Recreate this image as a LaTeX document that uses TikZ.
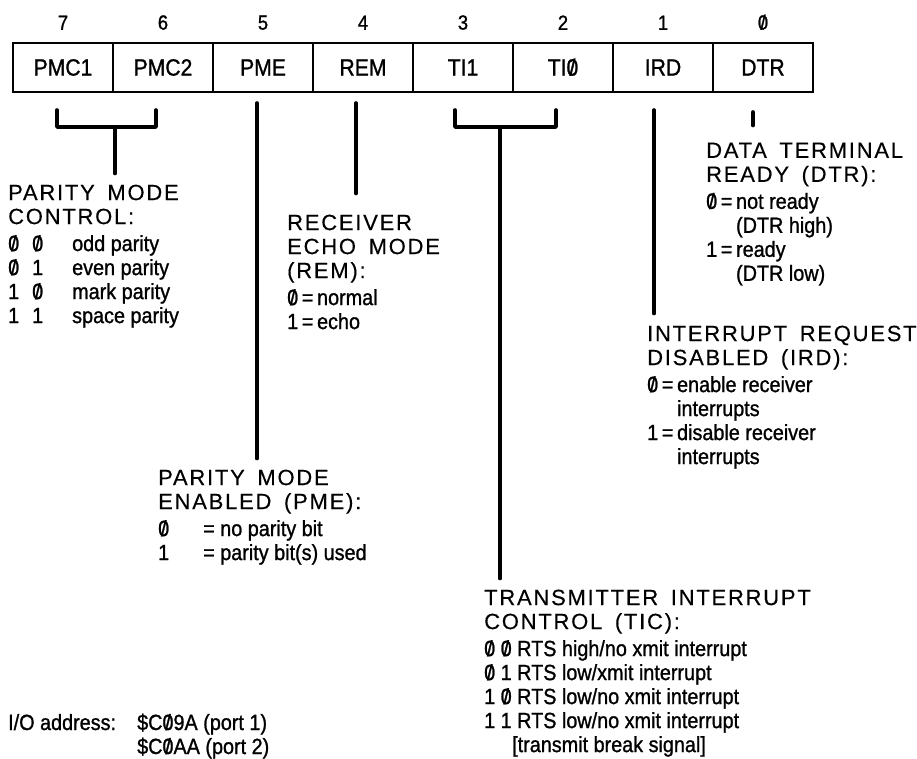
\documentclass[tikz,border=0pt]{standalone}
\usepackage{fontspec}
\setmainfont[FakeStretch=0.9,FakeBold=1.1]{Liberation Sans}
\newfontfamily\hdfont[LetterSpace=8,WordSpace=1.6,FakeBold=0.3]{Liberation Sans}
\usetikzlibrary{positioning,calc}
\newcommand\zr{\ooalign{0\cr\hidewidth/\hidewidth\cr}}
\newcommand\col[2]{\makebox[#1][l]{#2}}
\begin{document}
\begin{tikzpicture}[x=1pt, y=-1pt, line join=round, line cap=round,
    cell/.style={draw, line width=2.6pt, line join=miter, minimum width=100pt, minimum height=49pt, inner sep=0pt, outer sep=0pt, font=\fontsize{23.5}{24}\selectfont},
    bitno/.style={inner sep=0pt, font=\fontsize{20.5}{22}\selectfont},
    desc/.style={anchor=north west, inner sep=0pt, align=left, font=\fontsize{22}{24}\selectfont},
    lead/.style={line width=3.6pt}]
	\useasboundingbox (0,0) rectangle (917,758);
	% register cells
	\node[cell] (b7) at (63,67.5) {PMC1};
	\node[cell, right=0pt of b7] (b6) {PMC2};
	\node[cell, right=0pt of b6] (b5) {PME};
	\node[cell, right=0pt of b5] (b4) {REM};
	\node[cell, right=0pt of b4] (b3) {TI1};
	\node[cell, right=0pt of b3] (b2) {TI\zr};
	\node[cell, right=0pt of b2] (b1) {IRD};
	\node[cell, right=0pt of b1] (b0) {DTR};
	\node[bitno, above=13pt of b7] (n7) {7};
	\node[bitno, above=13pt of b6] (n6) {6};
	\node[bitno, above=13pt of b5] (n5) {5};
	\node[bitno, above=13pt of b4] (n4) {4};
	\node[bitno, above=13pt of b3] (n3) {3};
	\node[bitno, above=13pt of b2] (n2) {2};
	\node[bitno, above=13pt of b1] (n1) {1};
	\node[bitno, above=13pt of b0] (n0) {\zr};
	% descriptions
	\node[desc] (pmc) at (8,184.5) {\hdfont PARITY MODE\\ \hdfont CONTROL:\\[3pt]
		\normalfont\col{24pt}{\zr}\col{40pt}{\zr}odd parity\\
		\col{24pt}{\zr}\col{40pt}{1}even parity\\
		\col{24pt}{1}\col{40pt}{\zr}mark parity\\
		\col{24pt}{1}\col{40pt}{1}space parity};
	\node[desc] (rem) at (287,214.5) {\hdfont RECEIVER\\ \hdfont ECHO MODE\\ \hdfont (REM):\\[3pt]
		\normalfont\zr\,=\,normal\\
		1\,=\,echo};
	\node[desc] (dtr) at (706,142.5) {\hdfont DATA TERMINAL\\ \hdfont READY (DTR):\\[3pt]
		\normalfont\zr\,=\,not ready\\
		\phantom{\zr\,=\,}(DTR high)\\
		1\,=\,ready\\
		\phantom{1\,=\,}(DTR low)};
	\node[desc] (ird) at (647,325.5) {\hdfont INTERRUPT REQUEST\\ \hdfont DISABLED (IRD):\\[3pt]
		\normalfont\zr\,=\,enable receiver\\
		\phantom{\zr\,=\,}interrupts\\
		1\,=\,disable receiver\\
		\phantom{1\,=\,}interrupts};
	\node[desc] (pme) at (158,469.5) {\hdfont PARITY MODE\\ \hdfont ENABLED (PME):\\[3pt]
		\normalfont\col{45pt}{\zr}= no parity bit\\
		\col{45pt}{1}= parity bit(s) used};
	\node[desc] (tic) at (484,589.5) {\hdfont TRANSMITTER INTERRUPT\\ \hdfont CONTROL (TIC):\\[3pt]
		\normalfont\zr{} \zr{} RTS high/no xmit interrupt\\
		\zr{} 1 RTS low/xmit interrupt\\
		1 \zr{} RTS low/no xmit interrupt\\
		1 1 RTS low/no xmit interrupt\\
		\hspace*{28pt}[transmit break signal]};
	\node[desc] (io) at (8,713.5) {\col{129pt}{I/O address:}\$C\zr9A (port 1)\\
		\hspace*{129pt}\$C\zr AA (port 2)};
	% leaders
	\draw[lead] ([shift={(-6pt,-18pt)}]b7.south) |- ([shift={(-7pt,-35pt)}]b6.south) -- ([shift={(-7pt,-18pt)}]b6.south);
	\draw[lead] ([shift={(-48pt,-35pt)}]b6.south) -- ($(b6.south |- pmc.north)+(-48pt,11pt)$);
	\draw[lead] ([shift={(-6pt,-11pt)}]b5.south) -- ($(b5.south |- pme.north)+(-6pt,11pt)$);
	\draw[lead] ([shift={(-7pt,-11pt)}]b4.south) -- ($(b4.south |- rem.north)+(-7pt,21pt)$);
	\draw[lead] ([shift={(-8pt,-18pt)}]b3.south) |- ([shift={(-7pt,-35pt)}]b2.south) -- ([shift={(-7pt,-18pt)}]b2.south);
	\draw[lead] ([shift={(37pt,-35pt)}]b3.south) -- ($(b3.south |- tic.north)+(37pt,11pt)$);
	\draw[lead] ([shift={(-9pt,-18pt)}]b1.south) -- ($(b1.south |- ird.north)+(-9pt,12pt)$);
	\draw[lead] ([shift={(-10pt,-20pt)}]b0.south) -- ($(b0.south |- dtr.north)+(-10pt,17pt)$);
\end{tikzpicture}
\end{document}
